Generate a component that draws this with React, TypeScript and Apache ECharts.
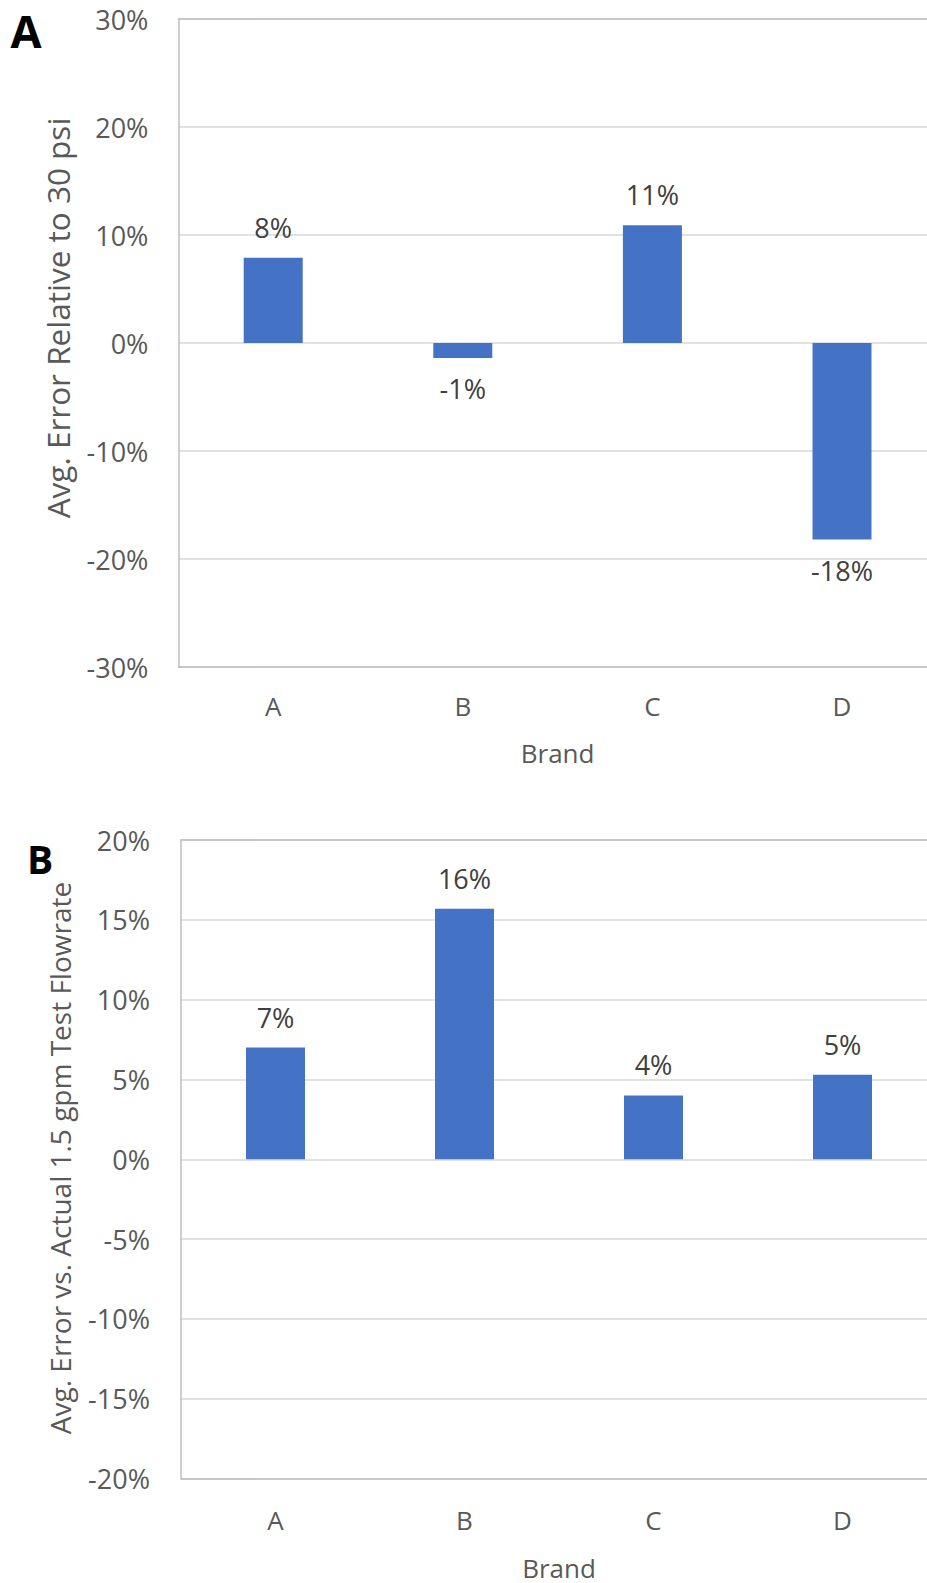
import React, { useEffect, useRef } from "react";
import * as echarts from "echarts";

const brands = ["A", "B", "C", "D"];
const pressureError = [7.9, -1.4, 10.9, -18.2];
const flowError = [7.0, 15.7, 4.0, 5.3];
const topTicks = { min: -30, max: 30, interval: 10 };
const bottomTicks = { min: -20, max: 20, interval: 5 };
const topTitle = "Avg. Error Relative to 30 psi";
const bottomTitle = "Avg. Error vs. Actual 1.5 gpm Test Flowrate";
const xTitle = "Brand";

const FONT = "'Open Sans', 'Noto Sans', sans-serif";
const BAR = "#4472c4";
const TICK = "#595959";
const DLABEL = "#404040";
const GRIDC = "#d9d9d9";
const BORDER = "#bfbfbf";

function barData(vals: number[]) {
  return vals.map((v) => ({
    value: v,
    label: { position: v < 0 ? "bottom" : "top" },
  }));
}

export default function App() {
  const ref = useRef<HTMLDivElement>(null);
  useEffect(() => {
    if (!ref.current) return;
    const chart = echarts.init(ref.current, undefined, { renderer: "svg" });
    const xCommon = (gi: number, gap: number, margin: number) => ({
      type: "category",
      gridIndex: gi,
      data: brands,
      position: "bottom",
      z: 3,
      axisLine: { show: true, onZero: false, lineStyle: { color: BORDER, width: 1.5 } },
      axisTick: { show: false },
      axisLabel: { color: TICK, fontSize: 26, fontFamily: FONT, margin },
      name: xTitle,
      nameLocation: "middle",
      nameGap: gap,
      nameTextStyle: { color: TICK, fontSize: 26, fontFamily: FONT },
    });
    const xTop = (gi: number) => ({
      type: "category",
      gridIndex: gi,
      data: brands,
      position: "top",
      z: 3,
      axisLine: { show: true, onZero: false, lineStyle: { color: BORDER, width: 1.5 } },
      axisTick: { show: false },
      axisLabel: { show: false },
      splitLine: { show: false },
    });
    const yCommon = (gi: number, t: { min: number; max: number; interval: number }, margin: number) => ({
      type: "value",
      gridIndex: gi,
      min: t.min,
      max: t.max,
      interval: t.interval,
      axisLine: { show: true, lineStyle: { color: BORDER, width: 1.5 } },
      axisTick: { show: false },
      axisLabel: {
        color: TICK,
        fontSize: 27,
        fontFamily: FONT,
        margin,
        formatter: (v: number) => `${v}%`,
      },
      splitLine: { show: true, lineStyle: { color: GRIDC, width: 1.5 } },
    });
    const seriesCommon = (xi: number, yi: number, vals: number[]) => ({
      type: "bar",
      xAxisIndex: xi,
      yAxisIndex: yi,
      data: barData(vals),
      barWidth: 59,
      itemStyle: { color: BAR },
      label: {
        show: true,
        color: DLABEL,
        fontSize: 27,
        fontFamily: FONT,
        distance: 17,
        formatter: (p: any) => `${Math.round(p.value)}%`,
      },
    });
    chart.setOption({
      animation: false,
      grid: [
        { left: 178.4, top: 19, width: 758.4, height: 648 },
        { left: 181, top: 840, width: 756, height: 638.5 },
      ],
      xAxis: [xCommon(0, 73, 26), xTop(0), xCommon(1, 76, 28), xTop(1)],
      yAxis: [yCommon(0, topTicks, 30), yCommon(1, bottomTicks, 31)],
      series: [seriesCommon(0, 0, pressureError), seriesCommon(2, 1, flowError)],
      graphic: [
        {
          type: "text",
          x: 57,
          y: 318,
          rotation: Math.PI / 2,
          style: {
            text: topTitle,
            fill: TICK,
            fontSize: 31.5,
            fontFamily: FONT,
            align: "center",
            verticalAlign: "middle",
          },
        },
        {
          type: "text",
          x: 60,
          y: 1158,
          rotation: Math.PI / 2,
          style: {
            text: bottomTitle,
            fill: TICK,
            fontSize: 28,
            fontFamily: FONT,
            align: "center",
            verticalAlign: "middle",
          },
        },
        {
          type: "text",
          x: 26,
          y: 30,
          style: {
            text: "A",
            fill: "#000000",
            fontSize: 45,
            fontWeight: "bold",
            fontFamily: FONT,
            align: "center",
            verticalAlign: "middle",
          },
        },
        {
          type: "text",
          x: 40,
          y: 858,
          style: {
            text: "B",
            fill: "#000000",
            fontSize: 39,
            fontWeight: "bold",
            fontFamily: FONT,
            align: "center",
            verticalAlign: "middle",
          },
        },
      ],
    });
    return () => chart.dispose();
  }, []);
  return (
    <div style={{ position: "absolute", left: 0, top: 0, width: 927, height: 1583, overflow: "hidden", background: "#ffffff" }}>
      <div ref={ref} style={{ width: 945, height: 1583 }} />
    </div>
  );
}
